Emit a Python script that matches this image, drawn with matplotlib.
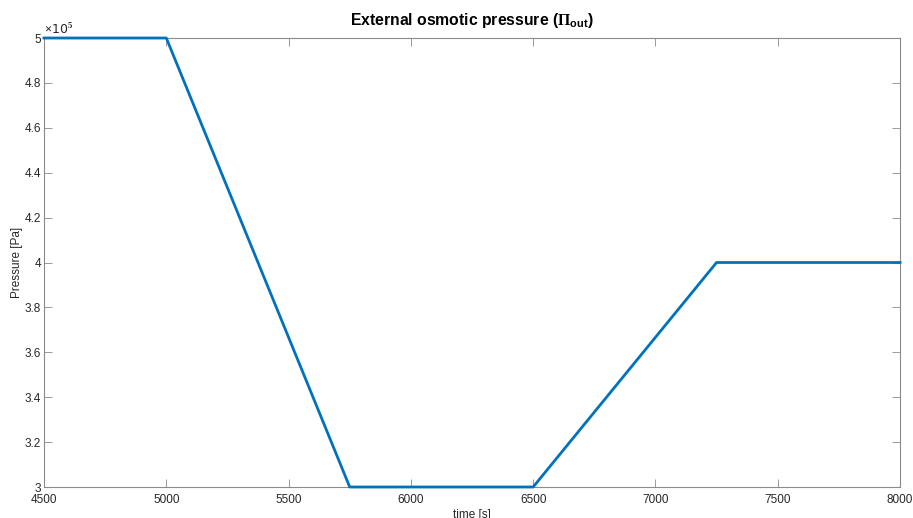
import matplotlib
matplotlib.use("Agg")
import matplotlib.pyplot as plt
from matplotlib.ticker import FuncFormatter

# Time points (s) and external osmotic pressure (Pa)
time_s = [4500, 5000, 5750, 6500, 7250, 8000]
pressure_pa = [5e5, 5e5, 3e5, 3e5, 4e5, 4e5]

x_ticks = [4500, 5000, 5500, 6000, 6500, 7000, 7500, 8000]
y_ticks = [3.0e5, 3.2e5, 3.4e5, 3.6e5, 3.8e5, 4.0e5, 4.2e5, 4.4e5, 4.6e5, 4.8e5, 5.0e5]

plt.rcParams["font.family"] = ["Liberation Sans", "DejaVu Sans"]
plt.rcParams["mathtext.fontset"] = "custom"
plt.rcParams["mathtext.rm"] = "Liberation Serif:bold"
plt.rcParams["mathtext.sf"] = "Liberation Sans:bold"
plt.rcParams["mathtext.it"] = "Liberation Sans:italic"
plt.rcParams["mathtext.bf"] = "Liberation Sans:bold"

fig = plt.figure(figsize=(9.13, 5.18), dpi=100)
ax = fig.add_axes([44 / 913, 1 - 487 / 518, (900 - 44) / 913, (487 - 38) / 518])

ax.plot(time_s, pressure_pa, color="#0072BD", linewidth=2.0, clip_on=False,
        zorder=3)

ax.set_xlim(4500, 8000)
ax.set_ylim(3e5, 5e5)
ax.set_xticks(x_ticks)
ax.set_yticks(y_ticks)
ax.yaxis.set_major_formatter(FuncFormatter(lambda v, p: "%g" % round(v / 1e5, 2)))

axis_gray = "#8a8a8a"
text_gray = "#262626"
for s in ax.spines.values():
    s.set_color(axis_gray)
    s.set_linewidth(0.8)
ax.tick_params(direction="in", length=5.5, width=0.6, color=axis_gray,
               labelcolor=text_gray, labelsize=8.5, top=True, right=True,
               pad=2)
ax.tick_params(axis="x", pad=5)

ax.text(0.0, 1.0, r"$\times$10$^{5}$", transform=ax.transAxes,
        fontsize=9, color=text_gray, ha="left", va="bottom",
        family=["DejaVu Sans"])

ax.set_xlabel("time [s]", fontsize=8.5, color=text_gray, labelpad=2)
ax.set_ylabel("Pressure [Pa]", fontsize=8.5, color=text_gray, labelpad=1)
ax.set_title(r"External osmotic pressure ($\Pi_{\mathsf{out}}$)",
             fontsize=11.3, fontweight="bold", color="black", pad=9)

fig.savefig("out.png", dpi=100)
